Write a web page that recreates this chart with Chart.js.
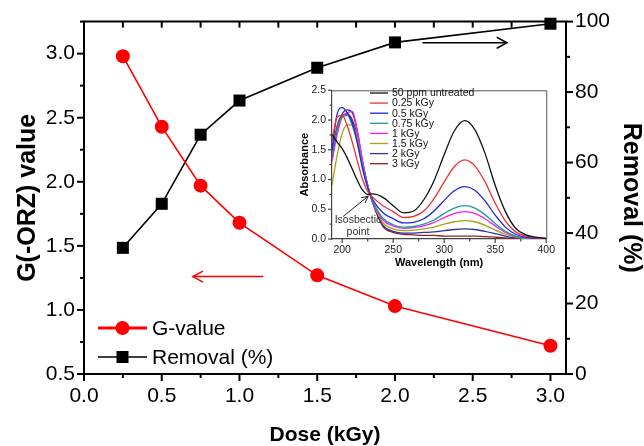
<!DOCTYPE html>
<html><head><meta charset="utf-8">
<script src="https://cdn.jsdelivr.net/npm/chart.js@4.4.0/dist/chart.umd.min.js"></script>
<style>
html,body{margin:0;padding:0;background:#fff;}
#wrap{position:relative;width:644px;height:446px;overflow:hidden;}
#main{position:absolute;left:0;top:0;}
#inset{position:absolute;left:270px;top:78px;}
</style></head><body>
<div id="wrap"><canvas id="main" width="644" height="446"></canvas><canvas id="inset" width="290" height="204"></canvas></div>
<script>
// ---------- main chart data ----------
const doses = [0.25, 0.5, 0.75, 1.0, 1.5, 2.0, 3.0];
const gValue = [2.98, 2.43, 1.97, 1.68, 1.27, 1.03, 0.72];
const removal = [35.8, 48.3, 67.9, 77.6, 86.9, 94.1, 99.4];
const doseTicks = [0, 0.5, 1.0, 1.5, 2.0, 2.5, 3.0];
const doseMinor = [0.25, 0.75, 1.25, 1.75, 2.25, 2.75];
const gTicks = [0.5, 1.0, 1.5, 2.0, 2.5, 3.0];
const gMinor = [0.75, 1.25, 1.75, 2.25, 2.75, 3.25];
const remTicks = [0, 20, 40, 60, 80, 100];
const remMinor = [10, 30, 50, 70, 90];
const seriesLabels = ['G-value', 'Removal (%)'];

// ---------- inset data ----------
const wavelengths = [190,195,200,205,210,215,220,225,230,240,250,260,270,280,290,300,310,320,330,340,350,360,370,380,390,400];
const absUntreated = [1.76,1.63,1.52,1.36,1.17,0.98,0.82,0.75,0.76,0.70,0.56,0.44,0.47,0.66,0.98,1.42,1.82,1.99,1.84,1.44,0.90,0.46,0.18,0.07,0.03,0.01];
const abs025 = [1.65,2.05,2.08,1.90,1.62,1.30,1.00,0.80,0.70,0.56,0.46,0.36,0.38,0.47,0.68,0.96,1.22,1.33,1.23,0.96,0.60,0.30,0.12,0.05,0.02,0.01];
const abs05 = [1.50,2.10,2.21,2.12,1.95,1.60,1.18,0.86,0.66,0.44,0.34,0.27,0.28,0.34,0.47,0.65,0.81,0.88,0.82,0.64,0.40,0.20,0.08,0.03,0.01,0.01];
const abs075 = [1.40,1.85,2.05,2.08,1.90,1.62,1.22,0.88,0.64,0.35,0.24,0.20,0.21,0.25,0.32,0.43,0.52,0.56,0.52,0.41,0.26,0.13,0.05,0.02,0.01,0.00];
const abs1 = [1.30,1.75,2.05,2.12,2.15,1.80,1.30,0.90,0.63,0.32,0.22,0.18,0.19,0.22,0.28,0.36,0.43,0.46,0.43,0.34,0.22,0.11,0.04,0.02,0.01,0.00];
const abs15 = [0.90,1.40,1.78,1.92,1.92,1.70,1.28,0.90,0.62,0.27,0.17,0.14,0.15,0.17,0.20,0.25,0.29,0.31,0.29,0.23,0.15,0.08,0.03,0.01,0.01,0.00];
const abs2 = [1.35,1.80,2.10,2.17,2.12,1.80,1.30,0.90,0.61,0.23,0.13,0.10,0.10,0.11,0.12,0.14,0.16,0.17,0.16,0.13,0.09,0.05,0.02,0.01,0.00,0.00];
const abs3 = [1.45,1.90,2.08,2.10,2.00,1.72,1.28,0.90,0.60,0.21,0.11,0.08,0.07,0.06,0.06,0.05,0.05,0.05,0.05,0.04,0.03,0.02,0.01,0.01,0.00,0.00];
const insetLabels = ['50 ppm untreated','0.25 kGy','0.5 kGy','0.75 kGy','1 kGy','1.5 kGy','2 kGy','3 kGy'];
const insetColors = ['#111111','#f03030','#2020e8','#1a9e8e','#f020f0','#a3a31a','#33339a','#8e2424'];
const insetSeries = [absUntreated, abs025, abs05, abs075, abs1, abs15, abs2, abs3];
const wlTicks = [200, 250, 300, 350, 400];
const wlMinor = [225, 275, 325, 375];
const absTicks = [0, 0.5, 1.0, 1.5, 2.0, 2.5];
const absMinor = [0.25, 0.75, 1.25, 1.75, 2.25];

const FAM = '"Liberation Sans", Arial, sans-serif';

function arrowLine(ctx, x1, y1, x2, y2, color, lw, head, spread) {
  ctx.save();
  ctx.strokeStyle = color; ctx.lineWidth = lw; ctx.lineCap = 'round';
  ctx.beginPath(); ctx.moveTo(x1, y1); ctx.lineTo(x2, y2); ctx.stroke();
  const a = Math.atan2(y2 - y1, x2 - x1);
  ctx.beginPath();
  ctx.moveTo(x2 - head * Math.cos(a - spread), y2 - head * Math.sin(a - spread));
  ctx.lineTo(x2, y2);
  ctx.lineTo(x2 - head * Math.cos(a + spread), y2 - head * Math.sin(a + spread));
  ctx.stroke();
  ctx.restore();
}

const mainDecor = {
  id: 'mainDecor',
  afterDraw(chart) {
    const {ctx, chartArea: ca, scales} = chart;
    const x = scales.x, yG = scales.yG, yR = scales.yR;
    ctx.save();
    ctx.strokeStyle = '#000';
    ctx.lineWidth = 2;
    ctx.beginPath(); ctx.moveTo(ca.left - 1, ca.top); ctx.lineTo(ca.right + 1, ca.top); ctx.stroke();
    ctx.lineWidth = 2;
    const tick = (x1, y1, x2, y2) => { ctx.beginPath(); ctx.moveTo(x1, y1); ctx.lineTo(x2, y2); ctx.stroke(); };
    doseTicks.forEach(v => { const p = x.getPixelForValue(v); tick(p, ca.bottom, p, ca.bottom + 7); tick(p, ca.top, p, ca.top + 6); });
    doseMinor.forEach(v => { const p = x.getPixelForValue(v); tick(p, ca.bottom, p, ca.bottom + 4); tick(p, ca.top, p, ca.top + 6); });
    gTicks.forEach(v => { const p = yG.getPixelForValue(v); tick(ca.left, p, ca.left - 7, p); });
    gMinor.forEach(v => { const p = yG.getPixelForValue(v); tick(ca.left, p, ca.left - 4, p); });
    remTicks.forEach(v => { const p = yR.getPixelForValue(v); tick(ca.right, p, ca.right + 7, p); });
    remMinor.forEach(v => { const p = yR.getPixelForValue(v); tick(ca.right, p, ca.right + 4, p); });

    // direction arrows
    arrowLine(ctx, x.getPixelForValue(1.15), yG.getPixelForValue(1.26), x.getPixelForValue(0.70), yG.getPixelForValue(1.26), '#ff0000', 1.5, 11, 0.5);
    arrowLine(ctx, x.getPixelForValue(2.18), yR.getPixelForValue(94.0), x.getPixelForValue(2.72), yR.getPixelForValue(94.0), '#000', 1.5, 11, 0.5);

    // legend
    const lx = ca.left + 14, rows = [328, 357];
    ctx.font = '21px ' + FAM; ctx.textBaseline = 'middle'; ctx.textAlign = 'left';
    ctx.strokeStyle = '#ff0000'; ctx.lineWidth = 3;
    tick(lx, rows[0], lx + 49, rows[0]);
    ctx.fillStyle = '#ff0000'; ctx.beginPath(); ctx.arc(lx + 24.5, rows[0], 7, 0, Math.PI * 2); ctx.fill();
    ctx.fillStyle = '#000'; ctx.fillText(seriesLabels[0], lx + 54, rows[0] + 1);
    ctx.strokeStyle = '#000'; ctx.lineWidth = 1.5;
    tick(lx, rows[1], lx + 49, rows[1]);
    ctx.fillRect(lx + 24.5 - 6, rows[1] - 6, 12, 12);
    ctx.fillText(seriesLabels[1], lx + 54, rows[1] + 1);
    ctx.restore();
  }
};

new Chart(document.getElementById('main'), {
  type: 'line',
  data: {
    datasets: [
      { label: seriesLabels[0], data: doses.map((d, i) => ({x: d, y: gValue[i]})), yAxisID: 'yG',
        borderColor: '#ff0000', backgroundColor: '#ff0000', borderWidth: 1.6, pointStyle: 'circle',
        pointRadius: 7, pointBorderWidth: 0, tension: 0, clip: false },
      { label: seriesLabels[1], data: doses.map((d, i) => ({x: d, y: removal[i]})), yAxisID: 'yR',
        borderColor: '#000', backgroundColor: '#000', borderWidth: 1.6, pointStyle: 'rect',
        pointRadius: 8.5, pointBorderWidth: 0, tension: 0, clip: false }
    ]
  },
  options: {
    responsive: false, animation: false, devicePixelRatio: 1,
    layout: { padding: { top: 21, left: 0, right: 0, bottom: 0 } },
    plugins: { legend: { display: false }, tooltip: { enabled: false } },
    scales: {
      x: {
        type: 'linear', min: 0, max: 3.1,
        afterBuildTicks: s => { s.ticks = doseTicks.map(v => ({value: v})); },
        ticks: { callback: v => Number(v).toFixed(1), font: { family: FAM, size: 21 }, color: '#000', padding: 10, maxRotation: 0, autoSkip: false },
        grid: { display: false, drawTicks: false },
        border: { display: true, color: '#000', width: 2 },
        title: { display: true, text: 'Dose (kGy)', color: '#000', font: { family: FAM, size: 21, weight: 'bold', lineHeight: 1 }, padding: { top: 0, bottom: 0 } },
        afterFit: s => { s.height = 72; }
      },
      yG: {
        type: 'linear', position: 'left', min: 0.5, max: 3.25,
        afterBuildTicks: s => { s.ticks = gTicks.map(v => ({value: v})); },
        ticks: { callback: v => Number(v).toFixed(1), font: { family: FAM, size: 21 }, color: '#000', padding: 9 },
        grid: { display: false, drawTicks: false },
        border: { display: true, color: '#000', width: 2 },
        title: { display: true, text: 'G(-ORZ) value', color: '#000', font: { family: FAM, size: 25, weight: 'bold', lineHeight: 1 }, padding: { top: 16, bottom: 0 } },
        afterFit: s => { s.width = 84; }
      },
      yR: {
        type: 'linear', position: 'right', min: 0, max: 100,
        afterBuildTicks: s => { s.ticks = remTicks.map(v => ({value: v})); },
        ticks: { callback: v => String(v), font: { family: FAM, size: 21 }, color: '#000', padding: 9 },
        grid: { display: false, drawTicks: false },
        border: { display: true, color: '#000', width: 2 },
        title: { display: true, text: 'Removal (%)', color: '#000', font: { family: FAM, size: 25, weight: 'bold', lineHeight: 1 }, padding: { top: 1, bottom: 0 } },
        afterFit: s => { s.width = 78; }
      }
    }
  },
  plugins: [mainDecor]
});

const insetDecor = {
  id: 'insetDecor',
  afterDraw(chart) {
    const {ctx, chartArea: ca, scales} = chart;
    const x = scales.x, y = scales.y;
    ctx.save();
    ctx.strokeStyle = '#555'; ctx.lineWidth = 1;
    ctx.beginPath(); ctx.moveTo(ca.left, ca.top + 0.5); ctx.lineTo(ca.right + 0.5, ca.top + 0.5); ctx.lineTo(ca.right + 0.5, ca.bottom); ctx.stroke();
    ctx.strokeStyle = '#444'; ctx.lineWidth = 1.2;
    const tick = (x1, y1, x2, y2) => { ctx.beginPath(); ctx.moveTo(x1, y1); ctx.lineTo(x2, y2); ctx.stroke(); };
    wlTicks.forEach(v => { const p = x.getPixelForValue(v); tick(p, ca.bottom, p, ca.bottom + 4); });
    wlMinor.forEach(v => { const p = x.getPixelForValue(v); tick(p, ca.bottom, p, ca.bottom + 2.5); });
    absTicks.forEach(v => { const p = y.getPixelForValue(v); tick(ca.left, p, ca.left - 4, p); });
    absMinor.forEach(v => { const p = y.getPixelForValue(v); tick(ca.left, p, ca.left - 2.5, p); });

    ctx.font = '10.5px ' + FAM; ctx.textBaseline = 'middle'; ctx.textAlign = 'left';
    chart.data.datasets.forEach((ds, i) => {
      const ry = 15 + i * 10.1;
      ctx.strokeStyle = ds.borderColor; ctx.lineWidth = 1.3;
      tick(100, ry, 118, ry);
      ctx.fillStyle = '#111';
      ctx.fillText(ds.label, 122, ry + 0.5);
    });

    ctx.fillStyle = '#333'; ctx.textAlign = 'center';
    ctx.fillText('Isosbectic', 88, 142);
    ctx.fillText('point', 88, 154);
    arrowLine(ctx, x.getPixelForValue(201), y.getPixelForValue(0.38), x.getPixelForValue(225.5), y.getPixelForValue(0.72), '#222', 1, 7, 0.45);
    ctx.restore();
  }
};

new Chart(document.getElementById('inset'), {
  type: 'line',
  data: {
    datasets: insetSeries.map((s, i) => ({
      label: insetLabels[i], data: wavelengths.map((w, j) => ({x: w, y: s[j]})),
      borderColor: insetColors[i], backgroundColor: insetColors[i], borderWidth: 1.3,
      pointRadius: 0, cubicInterpolationMode: 'monotone', fill: false
    }))
  },
  options: {
    responsive: false, animation: false, devicePixelRatio: 1,
    layout: { padding: { top: 7, right: 11, left: 0, bottom: 0 } },
    plugins: { legend: { display: false }, tooltip: { enabled: false } },
    scales: {
      x: {
        type: 'linear', min: 190, max: 400,
        afterBuildTicks: s => { s.ticks = wlTicks.map(v => ({value: v})); },
        ticks: { callback: v => String(v), font: { family: FAM, size: 10.5 }, color: '#222', padding: 5, maxRotation: 0, autoSkip: false },
        grid: { display: false, drawTicks: false },
        border: { display: true, color: '#444', width: 1.2 },
        title: { display: true, text: 'Wavelength (nm)', color: '#000', font: { family: FAM, size: 11, weight: 'bold', lineHeight: 1 }, padding: { top: 0, bottom: 14 } },
        afterFit: s => { s.height = 43; }
      },
      y: {
        type: 'linear', min: 0, max: 2.5,
        afterBuildTicks: s => { s.ticks = absTicks.map(v => ({value: v})); },
        ticks: { callback: v => Number(v).toFixed(1), font: { family: FAM, size: 10.5 }, color: '#222', padding: 6 },
        grid: { display: false, drawTicks: false },
        border: { display: true, color: '#444', width: 1.2 },
        title: { display: true, text: 'Absorbance', color: '#000', font: { family: FAM, size: 11, weight: 'bold', lineHeight: 1 }, padding: { top: 29, bottom: 0 } },
        afterFit: s => { s.width = 62; }
      }
    }
  },
  plugins: [insetDecor]
});
</script>
</body></html>
